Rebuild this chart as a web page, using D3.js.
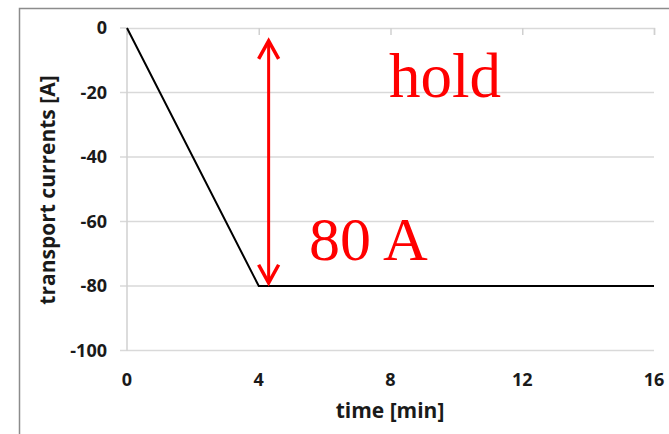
<!DOCTYPE html>
<html>
<head>
<meta charset="utf-8">
<script src="https://cdn.jsdelivr.net/npm/d3@7"></script>
<style>
  body { margin: 0; background: #fff; }
  svg { display: block; }
</style>
</head>
<body>
<svg id="chart"></svg>
<script>
const W = 669, H = 434;

// data
const timeMin = [0, 4, 16];
const currentA = [0, -80, -80];
const xTicks = [0, 4, 8, 12, 16];
const yTicks = [0, -20, -40, -60, -80, -100];
const holdArrow = { t: 4.3, from: -4, to: -79 };

const svg = d3.select('#chart').attr('width', W).attr('height', H);

// chart frame
svg.append('rect')
  .attr('x', 19.5).attr('y', 8.5)
  .attr('width', W).attr('height', H)
  .attr('fill', 'none')
  .attr('stroke', '#8c8c8c')
  .attr('stroke-width', 1.5);

const x = d3.scaleLinear().domain([0, 16]).range([127, 654]);
const y = d3.scaleLinear().domain([0, -100]).range([28, 350.5]);

// horizontal grid, running out past the axis like tick marks
svg.append('g')
  .selectAll('line')
  .data(yTicks.filter(d => d !== 0))
  .join('line')
  .attr('x1', x(0) - 7).attr('x2', x(16))
  .attr('y1', d => y(d)).attr('y2', d => y(d))
  .attr('stroke', '#d9d9d9')
  .attr('stroke-width', 1.5);

// value axis (left)
svg.append('line')
  .attr('x1', x(0)).attr('x2', x(0))
  .attr('y1', y(0)).attr('y2', y(-100))
  .attr('stroke', '#d0d0d0')
  .attr('stroke-width', 1.5);

// category axis crosses at 0, i.e. the top
const xAxis = svg.append('g')
  .attr('transform', `translate(0,${y(0)})`)
  .call(d3.axisBottom(x).tickValues(xTicks).tickSize(7).tickFormat(''));
xAxis.select('.domain').attr('stroke', '#d9d9d9').attr('stroke-width', 1.5);
xAxis.selectAll('.tick line').attr('stroke', '#d0d0d0').attr('stroke-width', 1.5);
svg.append('line')
  .attr('x1', x(0) - 7).attr('x2', x(0))
  .attr('y1', y(0)).attr('y2', y(0))
  .attr('stroke', '#d9d9d9').attr('stroke-width', 1.5);

const labelFont = '"Open Sans", sans-serif';

// tick labels
svg.append('g')
  .selectAll('text')
  .data(yTicks)
  .join('text')
  .attr('x', 107)
  .attr('y', d => y(d))
  .attr('dy', '0.35em')
  .attr('text-anchor', 'end')
  .attr('font-family', labelFont)
  .attr('font-weight', 700)
  .attr('font-size', 18)
  .attr('fill', '#1a1a1a')
  .text(d => d);

svg.append('g')
  .selectAll('text')
  .data(xTicks)
  .join('text')
  .attr('x', d => x(d))
  .attr('y', 386)
  .attr('text-anchor', 'middle')
  .attr('font-family', labelFont)
  .attr('font-weight', 700)
  .attr('font-size', 18)
  .attr('fill', '#1a1a1a')
  .text(d => d);

// axis titles
svg.append('text')
  .attr('x', 390).attr('y', 418)
  .attr('text-anchor', 'middle')
  .attr('font-family', labelFont)
  .attr('font-weight', 700)
  .attr('font-size', 21)
  .attr('fill', '#1a1a1a')
  .text('time [min]');

svg.append('text')
  .attr('transform', 'translate(55,190) rotate(-90)')
  .attr('text-anchor', 'middle')
  .attr('font-family', labelFont)
  .attr('font-weight', 700)
  .attr('font-size', 21)
  .attr('fill', '#1a1a1a')
  .text('transport currents [A]');

// the current profile
const line = d3.line()
  .x((d, i) => x(timeMin[i]))
  .y(d => y(d));

svg.append('path')
  .datum(currentA)
  .attr('d', line)
  .attr('fill', 'none')
  .attr('stroke', '#000')
  .attr('stroke-width', 2);

// red double arrow marking the hold
const red = '#ff0000';
const ax = x(holdArrow.t);
const yTop = y(holdArrow.from), yBot = y(holdArrow.to);
svg.append('line')
  .attr('x1', ax).attr('x2', ax)
  .attr('y1', yTop + 2).attr('y2', yBot - 2)
  .attr('stroke', red).attr('stroke-width', 3);
svg.append('path')
  .attr('d', `M${ax - 10},${yTop + 18} L${ax},${yTop} L${ax + 10},${yTop + 18}`)
  .attr('fill', 'none').attr('stroke', red).attr('stroke-width', 3.5);
svg.append('path')
  .attr('d', `M${ax - 10},${yBot - 18} L${ax},${yBot} L${ax + 10},${yBot - 18}`)
  .attr('fill', 'none').attr('stroke', red).attr('stroke-width', 3.5);

const serif = '"Liberation Serif", "Times New Roman", serif';
svg.append('text')
  .attr('x', 389).attr('y', 97)
  .attr('font-family', serif)
  .attr('font-size', 63)
  .attr('fill', red)
  .text('hold');

svg.append('text')
  .attr('x', 309).attr('y', 260)
  .attr('font-family', serif)
  .attr('font-size', 62)
  .attr('fill', red)
  .text('80 A');
</script>
</body>
</html>
